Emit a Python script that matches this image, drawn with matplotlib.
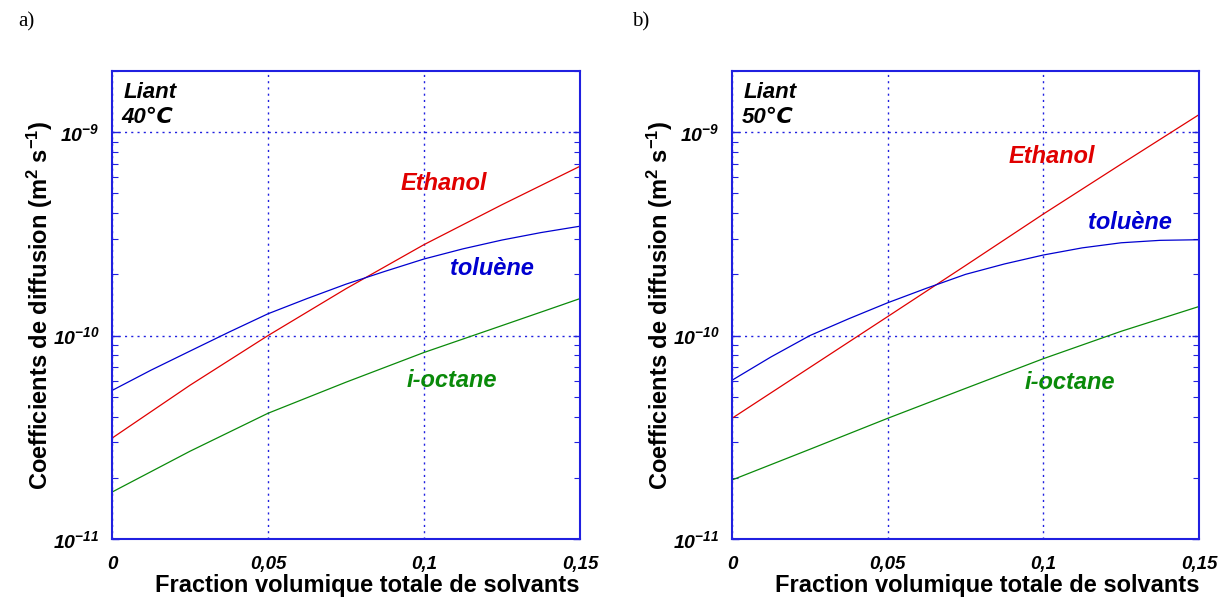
import numpy as np
import matplotlib
matplotlib.use("Agg")
import matplotlib.pyplot as plt
from matplotlib import ticker

# Données (fraction volumique, coefficients en m2/s)
fraction = [0, 0.025, 0.05, 0.075, 0.1, 0.125, 0.15]
# le toluène est plus courbé : lecture plus fine
fraction_fine = [0, 0.0125, 0.025, 0.0375, 0.05, 0.0625, 0.075,
                 0.0875, 0.1, 0.1125, 0.125, 0.1375, 0.15]

# a) Liant 40°C
ethanol_40 = [3.13e-11, 5.7e-11, 1.0e-10, 1.7e-10, 2.8e-10, 4.4e-10, 6.8e-10]
toluene_40 = [5.37e-11, 6.76e-11, 8.39e-11, 1.04e-10, 1.28e-10, 1.52e-10, 1.79e-10,
              2.07e-10, 2.38e-10, 2.67e-10, 2.95e-10, 3.21e-10, 3.45e-10]
octane_40 = [1.7e-11, 2.7e-11, 4.15e-11, 5.9e-11, 8.26e-11, 1.12e-10, 1.52e-10]

# b) Liant 50°C
ethanol_50 = [3.92e-11, 6.97e-11, 1.24e-10, 2.21e-10, 3.96e-10, 6.97e-10, 1.22e-9]
toluene_50 = [6.03e-11, 7.85e-11, 1.0e-10, 1.21e-10, 1.45e-10, 1.71e-10, 2.0e-10,
              2.25e-10, 2.49e-10, 2.70e-10, 2.86e-10, 2.94e-10, 2.96e-10]
octane_50 = [1.95e-11, 2.76e-11, 3.92e-11, 5.5e-11, 7.7e-11, 1.05e-10, 1.39e-10]

xticks = [0, 0.05, 0.1, 0.15]
xticklabels = ["0", "0,05", "0,1", "0,15"]

ROUGE = "#e00000"
BLEU = "#0000d0"
VERT = "#0a8a0a"
CADRE = "#2020e0"
POLICE = ["Liberation Sans", "DejaVu Sans"]

plt.rcParams["font.family"] = POLICE
plt.rcParams["mathtext.fontset"] = "custom"
plt.rcParams["mathtext.rm"] = "Liberation Sans:bold:italic"
plt.rcParams["mathtext.it"] = "Liberation Sans:bold:italic"
plt.rcParams["mathtext.bf"] = "Liberation Sans:bold"


def puissance(v, pos):
    return r"$\mathrm{10^{%d}}$" % int(round(np.log10(v)))


def panneau(ax, eth, tol, octa, temp, pos_eth, pos_tol, pos_oct):
    ax.plot(fraction, eth, color=ROUGE, lw=0.9)
    ax.plot(fraction_fine, tol, color=BLEU, lw=0.9)
    ax.plot(fraction, octa, color=VERT, lw=0.9)

    ax.set_yscale("log")
    ax.set_xlim(0, 0.15)
    ax.set_ylim(1e-11, 2.0e-9)

    ax.set_xticks(xticks)
    ax.set_xticklabels(xticklabels, fontsize=13.5, fontweight="bold", fontstyle="italic")
    ax.yaxis.set_major_locator(ticker.LogLocator(base=10))
    ax.yaxis.set_major_formatter(ticker.FuncFormatter(puissance))
    ax.yaxis.set_minor_locator(ticker.LogLocator(base=10, subs=np.arange(2, 10)))
    ax.yaxis.set_minor_formatter(ticker.NullFormatter())
    for lab in ax.get_yticklabels():
        lab.set_fontsize(14)

    ax.tick_params(axis="x", length=0, pad=12)
    ax.tick_params(axis="y", which="major", direction="in", length=5, width=1,
                   color=CADRE, left=True, right=True, pad=9)
    ax.tick_params(axis="y", which="minor", direction="in", length=4, width=0.8,
                   color=CADRE, left=True, right=True)

    for s in ax.spines.values():
        s.set_color(CADRE)
        s.set_linewidth(1.5)

    ax.grid(True, which="major", color=CADRE, linestyle=(0, (1.5, 3)), linewidth=1)

    ax.set_xlabel("Fraction volumique totale de solvants", fontsize=17, fontweight="bold")
    ax.xaxis.set_label_coords(0.546, -0.075)
    ax.set_ylabel(r"Coefficients de diffusion (m$^\mathbf{2}$ s$^\mathbf{-1}$)",
                  fontsize=17, fontweight="bold")
    ax.yaxis.set_label_coords(-0.122, 0.5)

    ax.text(0.025, 0.955, "Liant", transform=ax.transAxes, fontsize=16,
            fontweight="bold", fontstyle="italic", va="center", family=POLICE)
    ax.text(0.02, 0.9, temp, transform=ax.transAxes, fontsize=16,
            fontweight="bold", fontstyle="italic", va="center", family=POLICE)

    ax.text(pos_eth[0], pos_eth[1], "Ethanol", color=ROUGE, fontsize=17,
            fontweight="bold", fontstyle="italic", ha="center", va="center")
    ax.text(pos_tol[0], pos_tol[1], "toluène", color=BLEU, fontsize=17,
            fontweight="bold", fontstyle="italic", ha="center", va="center")
    ax.text(pos_oct[0], pos_oct[1], "i-octane", color=VERT, fontsize=17,
            fontweight="bold", fontstyle="italic", ha="center", va="center")


fig = plt.figure(figsize=(12.21, 5.99), dpi=100)
ax1 = fig.add_axes([0.0917, 0.1002, 0.3833, 0.7813])
ax2 = fig.add_axes([0.5995, 0.1002, 0.3825, 0.7813])

panneau(ax1, ethanol_40, toluene_40, octane_40, "40℃",
        (0.1065, 5.6e-10), (0.1218, 2.13e-10), (0.109, 6.0e-11))
panneau(ax2, ethanol_50, toluene_50, octane_50, "50℃",
        (0.1028, 7.6e-10), (0.1279, 3.58e-10), (0.1086, 5.9e-11))

fig.text(0.015, 0.963, "a)", family=["Liberation Serif", "DejaVu Serif"], fontsize=15, va="center")
fig.text(0.5175, 0.963, "b)", family=["Liberation Serif", "DejaVu Serif"], fontsize=15, va="center")

fig.savefig("out.png", dpi=100)
